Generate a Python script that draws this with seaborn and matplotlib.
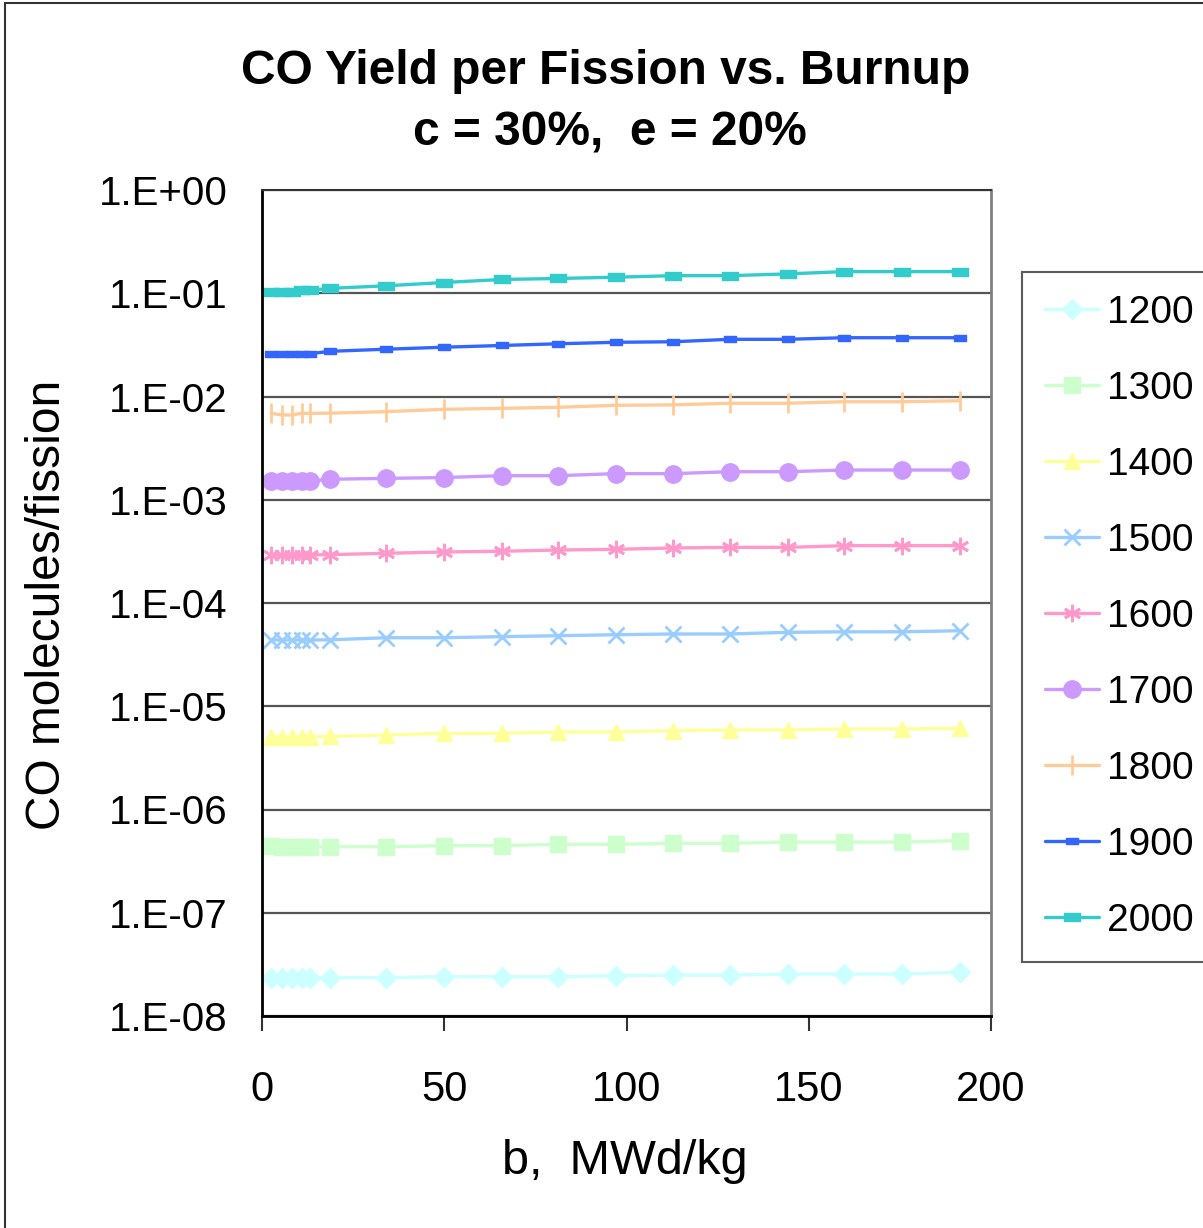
import numpy as np
import pandas as pd
import matplotlib
matplotlib.use("Agg")
import matplotlib.pyplot as plt
import seaborn as sns
from matplotlib.lines import Line2D
from matplotlib.ticker import LogLocator, FuncFormatter, FixedLocator

# ---------------- data ----------------
burnup = [2.5, 5.4, 8.1, 10.9, 13.2, 18.7, 33.9, 49.8, 65.8, 81.1, 97.0,
          112.8, 128.4, 144.3, 159.7, 175.6, 191.5]

temps = ["1200", "1300", "1400", "1500", "1600", "1700", "1800", "1900", "2000"]

y1200 = [2.35e-8, 2.35e-8, 2.35e-8, 2.35e-8, 2.35e-8, 2.35e-8, 2.35e-8, 2.40e-8, 2.40e-8,
         2.40e-8, 2.46e-8, 2.49e-8, 2.49e-8, 2.55e-8, 2.55e-8, 2.55e-8, 2.65e-8]
y1300 = [4.46e-7, 4.30e-7, 4.30e-7, 4.30e-7, 4.30e-7, 4.36e-7, 4.36e-7, 4.46e-7, 4.46e-7,
         4.60e-7, 4.60e-7, 4.70e-7, 4.70e-7, 4.84e-7, 4.84e-7, 4.84e-7, 4.99e-7]
y1400 = [5.07e-6, 5.07e-6, 5.07e-6, 5.07e-6, 5.07e-6, 5.10e-6, 5.27e-6, 5.47e-6, 5.47e-6,
         5.64e-6, 5.64e-6, 5.81e-6, 5.90e-6, 5.90e-6, 6.02e-6, 6.02e-6, 6.10e-6]
y1500 = [4.38e-5, 4.38e-5, 4.38e-5, 4.38e-5, 4.38e-5, 4.40e-5, 4.61e-5, 4.61e-5, 4.72e-5,
         4.82e-5, 4.93e-5, 5.01e-5, 5.01e-5, 5.20e-5, 5.26e-5, 5.26e-5, 5.39e-5]
y1600 = [2.92e-4, 2.92e-4, 2.92e-4, 2.92e-4, 2.92e-4, 2.94e-4, 3.03e-4, 3.12e-4, 3.17e-4,
         3.26e-4, 3.31e-4, 3.41e-4, 3.46e-4, 3.46e-4, 3.59e-4, 3.59e-4, 3.59e-4]
y1700 = [1.52e-3, 1.52e-3, 1.52e-3, 1.52e-3, 1.52e-3, 1.58e-3, 1.61e-3, 1.64e-3, 1.71e-3,
         1.71e-3, 1.79e-3, 1.79e-3, 1.87e-3, 1.87e-3, 1.94e-3, 1.94e-3, 1.94e-3]
y1800 = [6.87e-3, 6.63e-3, 6.63e-3, 6.87e-3, 6.87e-3, 6.90e-3, 7.13e-3, 7.51e-3, 7.68e-3,
         7.86e-3, 8.22e-3, 8.30e-3, 8.60e-3, 8.60e-3, 8.90e-3, 8.90e-3, 9.10e-3]
y1900 = [0.0260, 0.0260, 0.0260, 0.0260, 0.0260, 0.0274, 0.0287, 0.0300, 0.0312,
         0.0324, 0.0335, 0.0339, 0.0358, 0.0358, 0.0371, 0.0371, 0.0371]
y2000 = [0.1035, 0.1035, 0.1035, 0.107, 0.107, 0.1116, 0.118, 0.127, 0.136,
         0.139, 0.143, 0.148, 0.148, 0.154, 0.162, 0.162, 0.162]

series = [y1200, y1300, y1400, y1500, y1600, y1700, y1800, y1900, y2000]

x_ticks = [0, 50, 100, 150, 200]

# ---------------- styles ----------------
colors = ["#ccffff", "#ccffcc", "#ffff99", "#99ccff", "#ff99cc",
          "#cc99ff", "#ffcc99", "#3366ff", "#33cccc"]
rect_wide = [(-1, -0.5), (1, -0.5), (1, 0.5), (-1, 0.5), (-1, -0.5)]
rect_mid = [(-1, -0.55), (1, -0.55), (1, 0.55), (-1, 0.55), (-1, -0.55)]
markers = ["D", "s", "^", "x", (6, 2, 0), "o", "|", rect_mid, rect_wide]
msizes = [10, 11, 11, 11.5, 12.5, 12.5, 14, 8.5, 11.5]
mews = [1, 1, 1, 2, 2, 1, 2, 1, 1]

sns.set_style("white")
plt.rcParams["font.family"] = ["Liberation Sans", "DejaVu Sans"]
plt.rcParams["text.color"] = "black"
plt.rcParams["axes.labelcolor"] = "black"
plt.rcParams["xtick.color"] = "black"
plt.rcParams["ytick.color"] = "black"

W, H = 1203, 1228
fig = plt.figure(figsize=(W / 100, H / 100), dpi=100)
ax = fig.add_axes([262 / W, 1 - 1016 / H, (991 - 262) / W, (1016 - 190) / H])

for t, ys, c, m, ms, mw in zip(temps, series, colors, markers, msizes, mews):
    df = pd.DataFrame({"b": burnup, "y": ys})
    sns.lineplot(data=df, x="b", y="y", ax=ax, color=c, marker=m, markersize=ms,
                 markeredgecolor=c, markerfacecolor=c, markeredgewidth=mw,
                 linewidth=2.4, label=t, sort=False)

ax.set_yscale("log")
ax.set_ylim(1e-8, 1)
ax.set_xlim(0, 200)
ax.set_xlabel("")
ax.set_ylabel("")

ax.yaxis.set_major_locator(LogLocator(base=10, numticks=20))
ax.yaxis.set_minor_locator(LogLocator(base=10, subs=np.arange(2, 10), numticks=20))
ax.yaxis.set_major_formatter(FuncFormatter(lambda v, p: "1.E%+03d" % int(round(np.log10(v)))))
ax.xaxis.set_major_locator(FixedLocator(x_ticks))

ax.tick_params(axis="y", which="major", direction="out", length=14, width=1.5,
               labelsize=29, pad=11, color="#333333", labelcolor="black")
ax.tick_params(axis="y", which="minor", direction="in", length=10, width=1.2, color="#555555")
ax.tick_params(axis="x", which="major", direction="out", length=11, width=1.5,
               labelsize=30, pad=28, color="#333333", bottom=True, labelcolor="black")
ax.tick_params(axis="x", which="minor", bottom=False)

ax.grid(True, which="major", axis="y", color="#555555", linewidth=1.6)
ax.grid(False, axis="x")
ax.set_axisbelow(True)

for s in ["left", "bottom"]:
    ax.spines[s].set_color("black")
    ax.spines[s].set_linewidth(2)
ax.spines["top"].set_color("#333333")
ax.spines["top"].set_linewidth(1.5)
ax.spines["right"].set_color("#808080")
ax.spines["right"].set_linewidth(2)

# legend
handles, labels = ax.get_legend_handles_labels()
if ax.legend_:
    ax.legend_.remove()
leg = fig.legend(handles, labels, loc="upper left",
                 bbox_to_anchor=(1022 / W, 1 - 272 / H), bbox_transform=fig.transFigure,
                 fontsize=28, frameon=True, fancybox=False, shadow=False,
                 handlelength=1.4, handletextpad=0.2, labelspacing=1.03,
                 borderpad=0.58, borderaxespad=0, markerscale=1.0)
leg.get_frame().set_edgecolor("#333333")
leg.get_frame().set_linewidth(1.5)
for txt in leg.get_texts():
    txt.set_color("black")

# titles and labels
fig.text(606 / W, 1 - 71 / H, "CO Yield per Fission vs. Burnup", ha="center", va="center",
         fontsize=34.5, fontweight="bold")
fig.text(610 / W, 1 - 133 / H, "c = 30%,  e = 20%", ha="center", va="center",
         fontsize=34.5, fontweight="bold")
fig.text(48 / W, 1 - 605 / H, "CO molecules/fission", ha="center", va="center",
         rotation=90, fontsize=34.5)
fig.text(625 / W, 1 - 1161 / H, "b,  MWd/kg", ha="center", va="center", fontsize=35)

# outer frame
fig.add_artist(Line2D([5 / W, 5 / W], [0, 1 - 3 / H], transform=fig.transFigure,
                      color="#333333", linewidth=1.5))
fig.add_artist(Line2D([5 / W, 1], [1 - 3 / H, 1 - 3 / H], transform=fig.transFigure,
                      color="#333333", linewidth=1.5))

fig.savefig("out.png", dpi=100)
